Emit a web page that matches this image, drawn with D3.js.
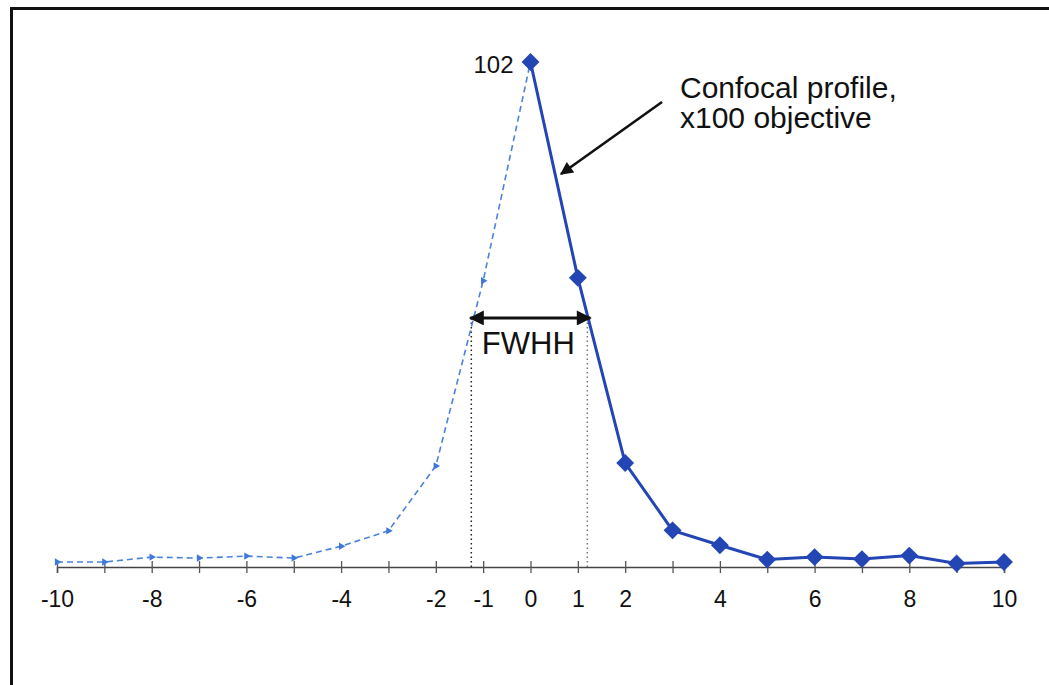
<!DOCTYPE html>
<html>
<head>
<meta charset="utf-8">
<script src="https://cdn.jsdelivr.net/npm/d3@7"></script>
<style>
  html, body { margin: 0; padding: 0; background: #fff; }
  svg { display: block; font-family: Arial, "Liberation Sans", sans-serif; }
</style>
</head>
<body>
<svg id="chart" width="1049" height="685"></svg>
<script>
// ---- data ----
const tickValues = [-10,-9,-8,-7,-6,-5,-4,-3,-2,-1,0,1,2,3,4,5,6,7,8,9,10];
const tickLabels = [-10,-8,-6,-4,-2,-1,0,1,2,4,6,8,10];
const leftX = [-10,-9,-8,-7,-6,-5,-4,-3,-2,-1,0];
const leftY = [1.0,1.0,2.0,1.8,2.2,1.8,4.2,7.3,20.4,57.8,102];
const rightX = [0,1,2,3,4,5,6,7,8,9,10];
const rightY = [102,58.4,21.0,7.4,4.4,1.5,2.0,1.6,2.3,0.7,1.0];
const peakLabel = "102";
const fwhhRange = [-1.25, 1.2];
const fwhhLevel = 50.3;
const annotation = ["Confocal profile,", "x100 objective"];

// ---- layout ----
const svg = d3.select("#chart");
const x = d3.scaleLinear().domain([-10, 10]).range([57, 1004]);
const y = d3.scaleLinear().domain([0, 102]).range([567, 62]);

// frame
svg.append("path")
  .attr("d", "M11.5,685 L11.5,8.5 L1049,8.5")
  .attr("fill", "none").attr("stroke", "#111").attr("stroke-width", 3);

// arrow marker defs
const defs = svg.append("defs");
defs.append("marker")
  .attr("id", "arrowHead").attr("viewBox", "0 0 10 10")
  .attr("refX", 9).attr("refY", 5)
  .attr("markerWidth", 6).attr("markerHeight", 5)
  .attr("markerUnits", "strokeWidth")
  .attr("orient", "auto-start-reverse")
  .append("path").attr("d", "M0,0 L10,5 L0,10 z").attr("fill", "#111");

// axis
const axis = d3.axisBottom(x)
  .tickValues(tickValues)
  .tickSizeOuter(0)
  .tickSize(6)
  .tickFormat(d => tickLabels.includes(d) ? d : "");
const gAxis = svg.append("g").attr("transform", `translate(0,${y(0)})`).call(axis);
gAxis.select(".domain").attr("stroke", "#444").attr("stroke-width", 1.5);
gAxis.selectAll(".tick line").attr("y1", -6).attr("y2", 6).attr("stroke", "#555").attr("stroke-width", 1.3);
gAxis.selectAll(".tick text")
  .attr("y", 24).attr("fill", "#111")
  .style("font-size", "23px").style("font-family", "Arial, 'Liberation Sans', sans-serif");

// FWHH dotted verticals
fwhhRange.forEach((v, i) => {
  svg.append("line")
    .attr("x1", x(v)).attr("x2", x(v))
    .attr("y1", y(fwhhLevel)).attr("y2", y(0))
    .attr("stroke", i === 0 ? "#222" : "#777")
    .attr("stroke-width", 1.5)
    .attr("stroke-dasharray", "1.5,3");
});

// left dashed series
const leftData = leftX.map((d, i) => [d, leftY[i]]);
const line = d3.line().x(d => x(d[0])).y(d => y(d[1]));
svg.append("path")
  .datum(leftData)
  .attr("d", line)
  .attr("fill", "none")
  .attr("stroke", "#4a82dc")
  .attr("stroke-width", 1.6)
  .attr("stroke-dasharray", "6,4");
svg.selectAll(".tri").data(leftData.slice(0, -1)).join("path")
  .attr("class", "tri")
  .attr("d", d3.symbol().type(d3.symbolTriangle).size(24))
  .attr("transform", d => `translate(${x(d[0])},${y(d[1])}) rotate(90)`)
  .attr("fill", "#3f78d8");

// right solid series
const rightData = rightX.map((d, i) => [d, rightY[i]]);
svg.append("path")
  .datum(rightData)
  .attr("d", line)
  .attr("fill", "none")
  .attr("stroke", "#2446b4")
  .attr("stroke-width", 3);
svg.selectAll(".dia").data(rightData).join("path")
  .attr("class", "dia")
  .attr("d", d3.symbol().type(d3.symbolSquare).size(160))
  .attr("transform", d => `translate(${x(d[0])},${y(d[1])}) rotate(45)`)
  .attr("fill", "#2446b4");

// peak label
svg.append("text")
  .attr("x", x(0) - 17).attr("y", y(102) + 11)
  .attr("text-anchor", "end")
  .style("font-size", "24px").attr("fill", "#111")
  .text(peakLabel);

// FWHH double arrow
svg.append("line")
  .attr("x1", x(fwhhRange[0]) - 1).attr("x2", x(fwhhRange[1]) + 3)
  .attr("y1", y(fwhhLevel)).attr("y2", y(fwhhLevel))
  .attr("stroke", "#111").attr("stroke-width", 3)
  .attr("marker-start", "url(#arrowHead)")
  .attr("marker-end", "url(#arrowHead)");
svg.append("text")
  .attr("x", (x(fwhhRange[0]) + x(fwhhRange[1])) / 2 - 1)
  .attr("y", 354)
  .attr("text-anchor", "middle")
  .style("font-size", "31px").attr("fill", "#111")
  .text("FWHH");

// annotation
const ann = svg.append("text").style("font-size", "30px").attr("fill", "#111");
annotation.forEach((t, i) => {
  ann.append("tspan").attr("x", 680).attr("y", 98 + i * 30).text(t);
});
svg.append("line")
  .attr("x1", 662).attr("y1", 102)
  .attr("x2", 561).attr("y2", 174)
  .attr("stroke", "#111").attr("stroke-width", 2.6)
  .attr("marker-end", "url(#arrowHead)");
</script>
</body>
</html>
